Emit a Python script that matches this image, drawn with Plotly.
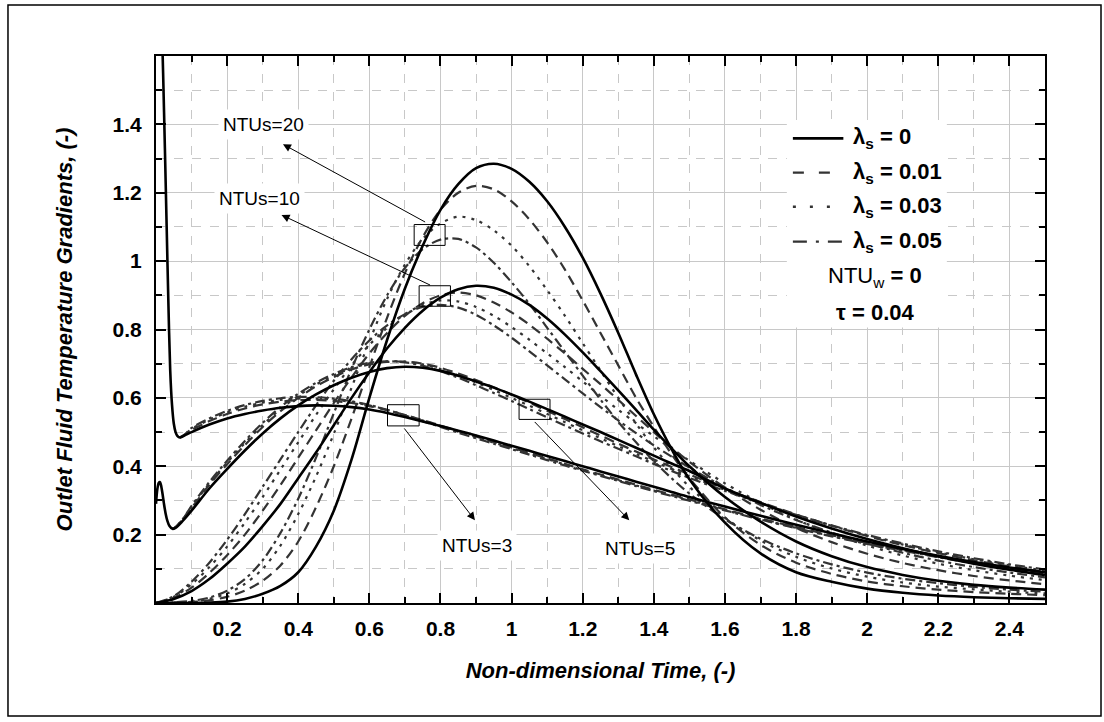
import plotly.graph_objects as go

# ---------------- data ----------------
t_main = [0.1, 0.15, 0.2, 0.25, 0.3, 0.35, 0.4, 0.45, 0.5, 0.55, 0.6, 0.65, 0.7, 0.75, 0.8, 0.85,
          0.9, 0.95, 1.0, 1.05, 1.1, 1.15, 1.2, 1.25, 1.3, 1.35, 1.4, 1.45, 1.5, 1.6, 1.7, 1.8,
          1.9, 2.0, 2.1, 2.2, 2.3, 2.4, 2.5]

# NTUs = 3
t3_start_solid = [0.015, 0.02, 0.025, 0.03, 0.035, 0.04, 0.045, 0.05, 0.055, 0.06, 0.067, 0.08]
y3_start_solid = [1.75, 1.55, 1.33, 1.10, 0.87, 0.68, 0.58, 0.525, 0.50, 0.489, 0.484, 0.49]
t3_start_var = [0.067, 0.08]
y3_start_var = [0.484, 0.492]
ntu3_l0 = [0.500, 0.522, 0.540, 0.553, 0.563, 0.571, 0.576, 0.578, 0.577, 0.573, 0.566, 0.556, 0.544,
           0.531, 0.518, 0.504, 0.490, 0.475, 0.460, 0.445, 0.430, 0.415, 0.400, 0.385, 0.370, 0.355,
           0.340, 0.325, 0.310, 0.282, 0.255, 0.229, 0.204, 0.180, 0.158, 0.138, 0.120, 0.104, 0.090]
ntu3_l1 = [0.506, 0.532, 0.553, 0.569, 0.581, 0.589, 0.593, 0.594, 0.591, 0.585, 0.576, 0.564, 0.550,
           0.535, 0.519, 0.503, 0.487, 0.471, 0.455, 0.439, 0.423, 0.407, 0.391, 0.376, 0.361, 0.346,
           0.331, 0.317, 0.303, 0.274, 0.247, 0.222, 0.198, 0.176, 0.155, 0.136, 0.118, 0.102, 0.088]
ntu3_l3 = [0.509, 0.536, 0.557, 0.574, 0.586, 0.594, 0.598, 0.598, 0.595, 0.588, 0.578, 0.565, 0.550,
           0.534, 0.518, 0.501, 0.485, 0.469, 0.453, 0.437, 0.421, 0.405, 0.389, 0.374, 0.359, 0.344,
           0.329, 0.315, 0.301, 0.272, 0.245, 0.220, 0.196, 0.174, 0.154, 0.135, 0.117, 0.101, 0.087]
ntu3_l5 = [0.512, 0.540, 0.562, 0.579, 0.591, 0.599, 0.603, 0.602, 0.598, 0.590, 0.579, 0.565, 0.549,
           0.532, 0.515, 0.498, 0.482, 0.466, 0.450, 0.434, 0.418, 0.402, 0.387, 0.372, 0.357, 0.342,
           0.327, 0.313, 0.299, 0.271, 0.244, 0.219, 0.195, 0.173, 0.153, 0.134, 0.116, 0.100, 0.086]

# NTUs = 5
t5_start_solid = [0.0, 0.004, 0.008, 0.011, 0.014, 0.018, 0.022, 0.027, 0.032, 0.038, 0.046, 0.055, 0.075]
y5_start_solid = [0.29, 0.335, 0.352, 0.354, 0.345, 0.322, 0.293, 0.262, 0.24, 0.225, 0.217, 0.22, 0.24]
t5_start_var = [0.046, 0.055, 0.075]
y5_start_var = [0.217, 0.222, 0.245]
ntu5_l0 = [0.270, 0.335, 0.392, 0.446, 0.496, 0.540, 0.578, 0.610, 0.637, 0.659, 0.676, 0.687, 0.691,
           0.688, 0.679, 0.665, 0.648, 0.630, 0.610, 0.589, 0.567, 0.545, 0.522, 0.500, 0.477, 0.454,
           0.431, 0.408, 0.386, 0.335, 0.293, 0.253, 0.218, 0.187, 0.160, 0.136, 0.115, 0.097, 0.082]
ntu5_l1 = [0.278, 0.346, 0.406, 0.462, 0.515, 0.561, 0.600, 0.634, 0.661, 0.683, 0.698, 0.705, 0.706,
           0.700, 0.688, 0.671, 0.652, 0.631, 0.609, 0.586, 0.562, 0.538, 0.514, 0.490, 0.466, 0.443,
           0.420, 0.398, 0.376, 0.334, 0.295, 0.259, 0.226, 0.196, 0.169, 0.146, 0.125, 0.107, 0.091]
ntu5_l3 = [0.281, 0.350, 0.411, 0.468, 0.521, 0.567, 0.606, 0.639, 0.666, 0.687, 0.701, 0.707, 0.706,
           0.698, 0.684, 0.666, 0.645, 0.623, 0.600, 0.577, 0.553, 0.529, 0.505, 0.482, 0.459, 0.436,
           0.414, 0.392, 0.371, 0.331, 0.293, 0.258, 0.226, 0.197, 0.171, 0.148, 0.128, 0.110, 0.095]
ntu5_l5 = [0.284, 0.354, 0.416, 0.474, 0.527, 0.573, 0.612, 0.644, 0.670, 0.690, 0.703, 0.707, 0.704,
           0.694, 0.678, 0.659, 0.637, 0.614, 0.591, 0.567, 0.543, 0.519, 0.496, 0.473, 0.451, 0.429,
           0.407, 0.386, 0.366, 0.328, 0.292, 0.258, 0.227, 0.199, 0.174, 0.151, 0.131, 0.113, 0.098]

# NTUs = 10
t10_start = [0.0, 0.05]
y10_start_l0 = [0.0, 0.012]
y10_start_l1 = [0.0, 0.015]
y10_start_l3 = [0.0, 0.018]
y10_start_l5 = [0.0, 0.020]
ntu10_l0 = [0.035, 0.070, 0.115, 0.165, 0.225, 0.290, 0.365, 0.440, 0.520, 0.600, 0.675, 0.745, 0.805,
            0.855, 0.893, 0.918, 0.928, 0.922, 0.902, 0.872, 0.832, 0.785, 0.733, 0.678, 0.622, 0.565,
            0.507, 0.452, 0.400, 0.310, 0.238, 0.180, 0.137, 0.105, 0.082, 0.065, 0.053, 0.045, 0.039]
ntu10_l1 = [0.045, 0.088, 0.140, 0.200, 0.270, 0.345, 0.425, 0.505, 0.585, 0.660, 0.730, 0.790, 0.840,
            0.877, 0.900, 0.908, 0.900, 0.879, 0.850, 0.814, 0.773, 0.730, 0.685, 0.640, 0.594, 0.547,
            0.500, 0.455, 0.413, 0.337, 0.273, 0.220, 0.178, 0.144, 0.117, 0.096, 0.079, 0.066, 0.055]
ntu10_l3 = [0.055, 0.105, 0.165, 0.235, 0.310, 0.390, 0.470, 0.550, 0.625, 0.695, 0.755, 0.805, 0.845,
            0.872, 0.885, 0.882, 0.866, 0.840, 0.807, 0.770, 0.730, 0.690, 0.648, 0.606, 0.565, 0.526,
            0.488, 0.451, 0.416, 0.350, 0.293, 0.244, 0.203, 0.168, 0.139, 0.115, 0.096, 0.080, 0.067]
ntu10_l5 = [0.062, 0.118, 0.185, 0.260, 0.340, 0.420, 0.500, 0.578, 0.650, 0.713, 0.768, 0.812, 0.845,
            0.866, 0.872, 0.864, 0.843, 0.812, 0.776, 0.736, 0.695, 0.654, 0.613, 0.573, 0.534, 0.497,
            0.461, 0.428, 0.396, 0.338, 0.287, 0.243, 0.206, 0.174, 0.147, 0.124, 0.105, 0.089, 0.075]

# NTUs = 20
t20_start = [0.0, 0.05]
y20_start_l0 = [0.0, 0.0]
y20_start_l1 = [0.0, 0.001]
y20_start_l3 = [0.0, 0.001]
y20_start_l5 = [0.0, 0.002]
ntu20_l0 = [0.000, 0.001, 0.004, 0.012, 0.027, 0.050, 0.090, 0.165, 0.270, 0.420, 0.600, 0.770, 0.920,
            1.045, 1.150, 1.225, 1.272, 1.285, 1.270, 1.232, 1.175, 1.100, 1.010, 0.905, 0.790, 0.668,
            0.552, 0.450, 0.362, 0.235, 0.145, 0.090, 0.062, 0.042, 0.030, 0.022, 0.017, 0.014, 0.012]
ntu20_l1 = [0.003, 0.008, 0.018, 0.036, 0.065, 0.110, 0.180, 0.280, 0.400, 0.540, 0.690, 0.835, 0.965,
            1.070, 1.150, 1.200, 1.220, 1.210, 1.175, 1.122, 1.055, 0.975, 0.885, 0.790, 0.695, 0.600,
            0.515, 0.435, 0.365, 0.250, 0.170, 0.118, 0.085, 0.063, 0.049, 0.039, 0.032, 0.027, 0.023]
ntu20_l3 = [0.004, 0.012, 0.028, 0.056, 0.100, 0.168, 0.260, 0.370, 0.495, 0.630, 0.765, 0.890, 0.990,
            1.065, 1.110, 1.130, 1.120, 1.090, 1.045, 0.985, 0.915, 0.840, 0.760, 0.680, 0.600, 0.525,
            0.455, 0.395, 0.340, 0.250, 0.183, 0.135, 0.101, 0.077, 0.060, 0.048, 0.040, 0.033, 0.028]
ntu20_l5 = [0.006, 0.016, 0.036, 0.070, 0.125, 0.205, 0.305, 0.425, 0.555, 0.685, 0.800, 0.900, 0.980,
            1.035, 1.063, 1.065, 1.040, 0.995, 0.938, 0.875, 0.805, 0.735, 0.665, 0.595, 0.530, 0.470,
            0.415, 0.365, 0.320, 0.245, 0.188, 0.145, 0.113, 0.089, 0.071, 0.058, 0.047, 0.039, 0.033]

x_tickvals = [0.2, 0.4, 0.6, 0.8, 1.0, 1.2, 1.4, 1.6, 1.8, 2.0, 2.2, 2.4]
x_ticktext = ["0.2", "0.4", "0.6", "0.8", "1", "1.2", "1.4", "1.6", "1.8", "2", "2.2", "2.4"]
x_minor = [0.1, 0.3, 0.5, 0.7, 0.9, 1.1, 1.3, 1.5, 1.7, 1.9, 2.1, 2.3, 2.5]
y_tickvals = [0.2, 0.4, 0.6, 0.8, 1.0, 1.2, 1.4]
y_ticktext = ["0.2", "0.4", "0.6", "0.8", "1", "1.2", "1.4"]
y_minor = [0.1, 0.3, 0.5, 0.7, 0.9, 1.1, 1.3, 1.5]

legend_labels = ["λ<sub>s</sub> = 0", "λ<sub>s</sub> = 0.01", "λ<sub>s</sub> = 0.03", "λ<sub>s</sub> = 0.05"]

# ---------------- styles ----------------
FONT = "Arial, 'Liberation Sans', sans-serif"
BLACK = "#000000"
GRAY = "#333333"
DASH = "10px,6px"
DOT = "3px,6px"
DASHDOT = "10px,4px,3px,4px"

fig = go.Figure()


def add_curve(xs, ys, color, width, dash):
    fig.add_trace(go.Scatter(x=xs, y=ys, mode="lines", showlegend=False, hoverinfo="skip",
                             line=dict(color=color, width=width, dash=dash,
                                       shape="spline", smoothing=0.9)))


groups = [
    (t20_start, [y20_start_l1, y20_start_l3, y20_start_l5], [ntu20_l1, ntu20_l3, ntu20_l5]),
    (t10_start, [y10_start_l1, y10_start_l3, y10_start_l5], [ntu10_l1, ntu10_l3, ntu10_l5]),
    (t5_start_var, [y5_start_var, y5_start_var, y5_start_var], [ntu5_l1, ntu5_l3, ntu5_l5]),
    (t3_start_var, [y3_start_var, y3_start_var, y3_start_var], [ntu3_l1, ntu3_l3, ntu3_l5]),
]
dashes = [DASH, DOT, DASHDOT]
for ts, starts, mains in groups:
    for st, mn, d in zip(starts, mains, dashes):
        add_curve(ts + t_main, st + mn, GRAY, 2.2, d)

add_curve(t3_start_solid + t_main, y3_start_solid + ntu3_l0, BLACK, 2.6, "solid")
add_curve(t5_start_solid + t_main, y5_start_solid + ntu5_l0, BLACK, 2.6, "solid")
add_curve(t10_start + t_main, y10_start_l0 + ntu10_l0, BLACK, 2.6, "solid")
add_curve(t20_start + t_main, y20_start_l0 + ntu20_l0, BLACK, 2.6, "solid")

# ---------------- annotations: boxes, arrows, labels ----------------
shapes = []
boxes = [(0.726, 1.046, 0.813, 1.107), (0.740, 0.868, 0.828, 0.928),
         (0.651, 0.518, 0.740, 0.580), (1.021, 0.537, 1.108, 0.596)]
for x0, y0, x1, y1 in boxes:
    shapes.append(dict(type="rect", xref="x", yref="y", x0=x0, y0=y0, x1=x1, y1=y1,
                       line=dict(color="black", width=1), layer="above"))

# (arrow head, arrow tail)
arrows = [((0.357, 1.342), (0.761, 1.112)), ((0.353, 1.135), (0.775, 0.928)),
          ((0.897, 0.242), (0.695, 0.515)), ((1.331, 0.242), (1.061, 0.534))]
annotations = []
for (hx, hy), (tx, ty) in arrows:
    annotations.append(dict(x=hx, y=hy, ax=tx, ay=ty, xref="x", yref="y", axref="x", ayref="y",
                            text="", showarrow=True, arrowhead=2, arrowsize=1.6, arrowwidth=1,
                            arrowcolor="black"))

labels = [("NTUs=20", 0.301, 1.399), ("NTUs=10", 0.292, 1.184),
          ("NTUs=3", 0.902, 0.168), ("NTUs=5", 1.361, 0.159)]
for txt, lx, ly in labels:
    annotations.append(dict(x=lx, y=ly, xref="x", yref="y", text=txt, showarrow=False,
                            font=dict(family=FONT, size=19, color="black"),
                            bgcolor="white", borderpad=4))

# legend (drawn manually)
shapes.append(dict(type="rect", xref="x", yref="y", x0=1.774, x1=2.224, y0=0.806, y1=1.413,
                   fillcolor="white", line=dict(width=0), layer="between"))
leg_rows = [1.359, 1.259, 1.159, 1.057]
leg_styles = [("solid", BLACK, 2.6), ("11px,15px", GRAY, 2.4), ("3px,14px", GRAY, 2.4),
              ("14px,9px,3px,9px", GRAY, 2.4)]
for yy, (d, c, w), lab in zip(leg_rows, leg_styles, legend_labels):
    shapes.append(dict(type="line", xref="x", yref="y", x0=1.791, x1=1.933, y0=yy, y1=yy,
                       line=dict(color=c, width=w, dash=d), layer="above"))
    annotations.append(dict(x=1.954, y=yy, xref="x", yref="y", xanchor="left", yanchor="middle",
                            text="<b>" + lab + "</b>", showarrow=False,
                            font=dict(family=FONT, size=22, color="black")))
annotations.append(dict(x=2.022, y=0.954, xref="x", yref="y", text="NTU<sub>w</sub> <b>= 0</b>",
                        showarrow=False, font=dict(family=FONT, size=22, color="black")))
annotations.append(dict(x=2.022, y=0.849, xref="x", yref="y", text="<b>τ = 0.04</b>",
                        showarrow=False, font=dict(family=FONT, size=22, color="black")))

# outer frame
shapes.append(dict(type="rect", xref="paper", yref="paper", x0=-0.1665, x1=1.0630,
                   y0=-0.2066, y1=1.0932, line=dict(color="black", width=1.5), layer="above"))

axis_common = dict(
    showline=True, linecolor="black", linewidth=2, mirror="allticks",
    ticks="inside", ticklen=10, tickwidth=2, tickcolor="black",
    showgrid=True, gridcolor="#c8c8c8", gridwidth=1, zeroline=False,
    tickfont=dict(family=FONT, size=21, color="black", weight="bold"),
)

fig.update_layout(
    width=1104, height=722, autosize=False,
    margin=dict(l=156, r=59, t=56, b=119),
    paper_bgcolor="white", plot_bgcolor="white",
    shapes=shapes, annotations=annotations,
    xaxis=dict(range=[0, 2.5], tickvals=x_tickvals, ticktext=x_ticktext,
               minor=dict(tickvals=x_minor, ticks="inside", ticklen=6, tickwidth=1.5,
                          tickcolor="black", showgrid=True, gridcolor="#c8c8c8",
                          griddash="dash", gridwidth=1),
               title=dict(text="Non-dimensional Time, (-)", standoff=23,
                          font=dict(family=FONT, size=22, color="black", weight="bold",
                                    style="italic")),
               ticklabelstandoff=6, **axis_common),
    yaxis=dict(range=[0, 1.6], tickvals=y_tickvals, ticktext=y_ticktext,
               minor=dict(tickvals=y_minor, ticks="inside", ticklen=6, tickwidth=1.5,
                          tickcolor="black", showgrid=True, gridcolor="#c8c8c8",
                          griddash="dash", gridwidth=1),
               title=dict(text="Outlet Fluid Temperature Gradients, (-)", standoff=34,
                          font=dict(family=FONT, size=22, color="black", weight="bold",
                                    style="italic")),
               ticklabelstandoff=8, **axis_common),
)

fig.write_html("out.html")
